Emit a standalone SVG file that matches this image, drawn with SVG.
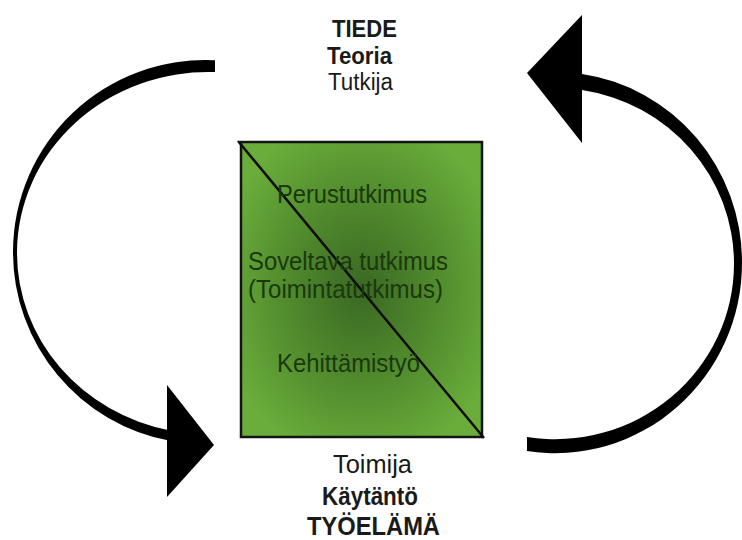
<svg xmlns="http://www.w3.org/2000/svg" width="742" height="540" viewBox="0 0 742 540">
  <style>
    .lbl { font-family: "Liberation Sans", Arial, sans-serif; font-size: 26px; fill: #1a1a1a; }
    .top { font-size: 23px; }
    .b { font-weight: bold; }
    .inner { font-family: "Liberation Sans", Arial, sans-serif; font-size: 25px; fill: #1b380e; }
    .arrow { fill: #000; stroke: none; }
  </style>
  <defs>
    <radialGradient id="g" cx="50%" cy="50%" r="60%">
      <stop offset="0" stop-color="#3a6823"/>
      <stop offset="0.55" stop-color="#528d2e"/>
      <stop offset="1" stop-color="#6aad3b"/>
    </radialGradient>
  </defs>
  <rect width="742" height="540" fill="#fff"/>

  <g id="connectors">
    <g id="arrow-left">
      <path class="arrow" d="M 215 60.3 A 192 192 0 0 0 13 252 A 192 192 0 0 0 170 440.8 L 170 430.4 A 191 181 0 0 1 17 253 A 191 181 0 0 1 215 72.1 Z"/>
      <polygon class="arrow" points="167,385 214,445 167,497"/>
    </g>
    <g id="arrow-right">
      <path class="arrow" d="M 527 451 A 187 190 0 0 0 742 262 A 187 190 0 0 0 582 74 L 582 90 A 179 175.6 0 0 1 734 263.5 A 179 175.6 0 0 1 527 437 Z"/>
      <polygon class="arrow" points="582,15 527,73 582,143"/>
    </g>
  </g>

  <g id="box">
    <rect x="241" y="142" width="241" height="295" fill="url(#g)" stroke="#141414" stroke-width="2.5"/>
    <line x1="238" y1="141" x2="484" y2="438" stroke="#0d0d0d" stroke-width="2.5"/>
    <text class="inner" x="277" y="203" textLength="150" lengthAdjust="spacingAndGlyphs">Perustutkimus</text>
    <text class="inner" x="248" y="270" textLength="200" lengthAdjust="spacingAndGlyphs">Soveltava tutkimus</text>
    <text class="inner" x="248" y="298" textLength="195" lengthAdjust="spacingAndGlyphs">(Toimintatutkimus)</text>
    <text class="inner" x="277" y="372" textLength="143" lengthAdjust="spacingAndGlyphs">Kehittämistyö</text>
  </g>

  <g id="top-labels">
    <text class="lbl top b" x="332" y="37" textLength="65" lengthAdjust="spacingAndGlyphs">TIEDE</text>
    <text class="lbl top b" x="327" y="64" textLength="65" lengthAdjust="spacingAndGlyphs">Teoria</text>
    <text class="lbl top" x="328" y="90" textLength="65" lengthAdjust="spacingAndGlyphs">Tutkija</text>
  </g>

  <g id="bottom-labels">
    <text class="lbl" x="333" y="473" textLength="79" lengthAdjust="spacingAndGlyphs">Toimija</text>
    <text class="lbl b" x="322" y="505" textLength="96" lengthAdjust="spacingAndGlyphs">Käytäntö</text>
    <text class="lbl b" x="307" y="535" textLength="133" lengthAdjust="spacingAndGlyphs">TYÖELÄMÄ</text>
  </g>
</svg>
